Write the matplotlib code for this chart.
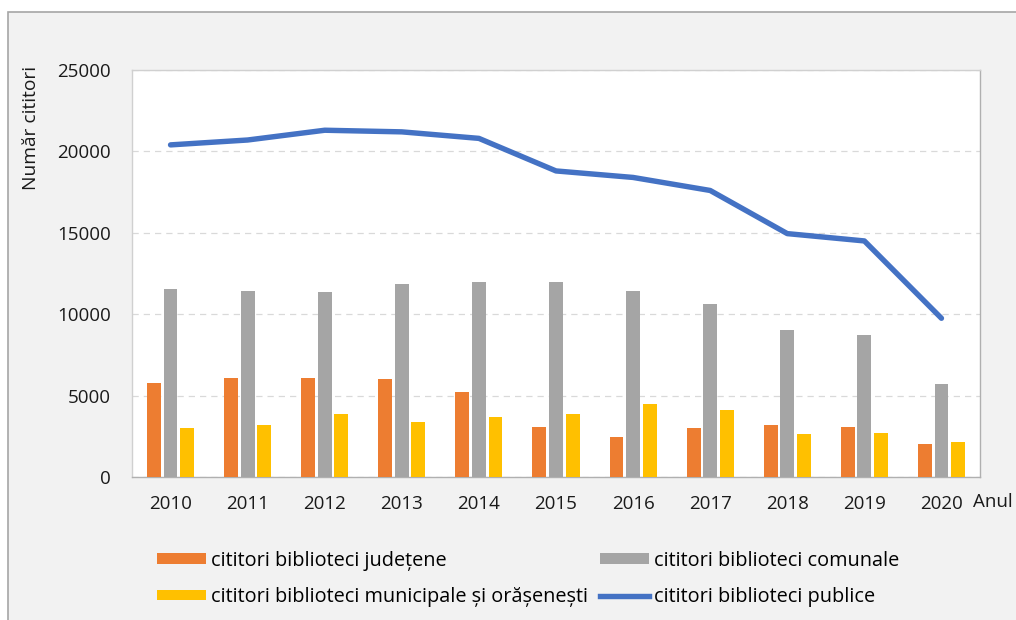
import matplotlib
matplotlib.use("Agg")
import matplotlib.pyplot as plt
import numpy as np
from matplotlib.patches import Rectangle, Patch
from matplotlib.lines import Line2D

years = ["2010", "2011", "2012", "2013", "2014", "2015", "2016", "2017", "2018", "2019", "2020"]
judetene = [5800, 6100, 6100, 6000, 5200, 3050, 2450, 3000, 3200, 3050, 2000]
comunale = [11550, 11400, 11350, 11850, 12000, 12000, 11400, 10600, 9050, 8700, 5700]
municipale = [3000, 3200, 3850, 3380, 3680, 3870, 4480, 4100, 2650, 2700, 2150]
publice = [20400, 20700, 21300, 21200, 20800, 18800, 18400, 17600, 14950, 14500, 9750]

labels = [
    "cititori biblioteci județene",
    "cititori biblioteci comunale",
    "cititori biblioteci municipale și orășenești",
    "cititori biblioteci publice",
]
c_orange = "#ED7D31"
c_gray = "#A5A5A5"
c_yellow = "#FFC000"
c_blue = "#4472C4"

plt.rcParams["font.family"] = ["Open Sans", "DejaVu Sans"]

W, H = 1016, 620
fig = plt.figure(figsize=(W / 100, H / 100), dpi=100)
fig.patch.set_facecolor("white")
# chart area frame
fig.patches.append(Rectangle((8 / W, -0.01), 1.02, 1 - 12 / H + 0.01,
                             transform=fig.transFigure, facecolor="#f2f2f2",
                             edgecolor="#a6a6a6", linewidth=1.2, zorder=-10))

ax = fig.add_axes([132 / W, 1 - 477 / H, 848 / W, 407 / H])
ax.set_facecolor("white")

x = np.arange(len(years))
off = 0.215
w = 0.18
ax.bar(x - off, judetene, w, color=c_orange, zorder=3)
ax.bar(x, comunale, w, color=c_gray, zorder=3)
ax.bar(x + off, municipale, w, color=c_yellow, zorder=3)
ax.plot(x, publice, color=c_blue, linewidth=3.9, solid_capstyle="round", zorder=4)

ax.set_xlim(-0.5, len(years) - 0.5)
ax.set_ylim(0, 25000)
ax.set_yticks(range(0, 25001, 5000))
ax.set_xticks(x)
ax.set_xticklabels(years)
ax.tick_params(axis="both", length=0, labelsize=13.5, colors="#1a1a1a")
ax.tick_params(axis="y", pad=15)
ax.tick_params(axis="x", pad=13)
ax.yaxis.grid(True, linestyle=(0, (5, 4)), color="#d9d9d9", linewidth=0.9, zorder=0)

for side in ["left", "top"]:
    ax.spines[side].set_color("#d0d0d0")
for side in ["right", "bottom"]:
    ax.spines[side].set_color("#b0b0b0")
for s in ax.spines.values():
    s.set_linewidth(1.0)

fig.text(31 / W, 1 - 128 / H, "Număr cititori", rotation=90, ha="center",
         va="center", fontsize=13.8, color="#1a1a1a")
fig.text(973 / W, 1 - 502 / H, "Anul", ha="left", va="center",
         fontsize=13.5, color="#1a1a1a")

# legend: two columns placed at fixed positions
col1 = [Patch(facecolor=c_orange), Patch(facecolor=c_yellow)]
col2 = [Patch(facecolor=c_gray), Line2D([0], [0], color=c_blue, linewidth=3.9)]
leg_kw = dict(loc="center left", frameon=False, fontsize=14.3, handlelength=2.45,
              handleheight=0.42, handletextpad=0.25, labelspacing=0.85,
              borderaxespad=0, borderpad=0)
leg1 = fig.legend(col1, [labels[0], labels[2]],
                  bbox_to_anchor=(157 / W, 1 - 579 / H), **leg_kw)
leg2 = fig.legend(col2, [labels[1], labels[3]],
                  bbox_to_anchor=(600 / W, 1 - 579 / H), **leg_kw)

fig.savefig("out.png", dpi=100)
